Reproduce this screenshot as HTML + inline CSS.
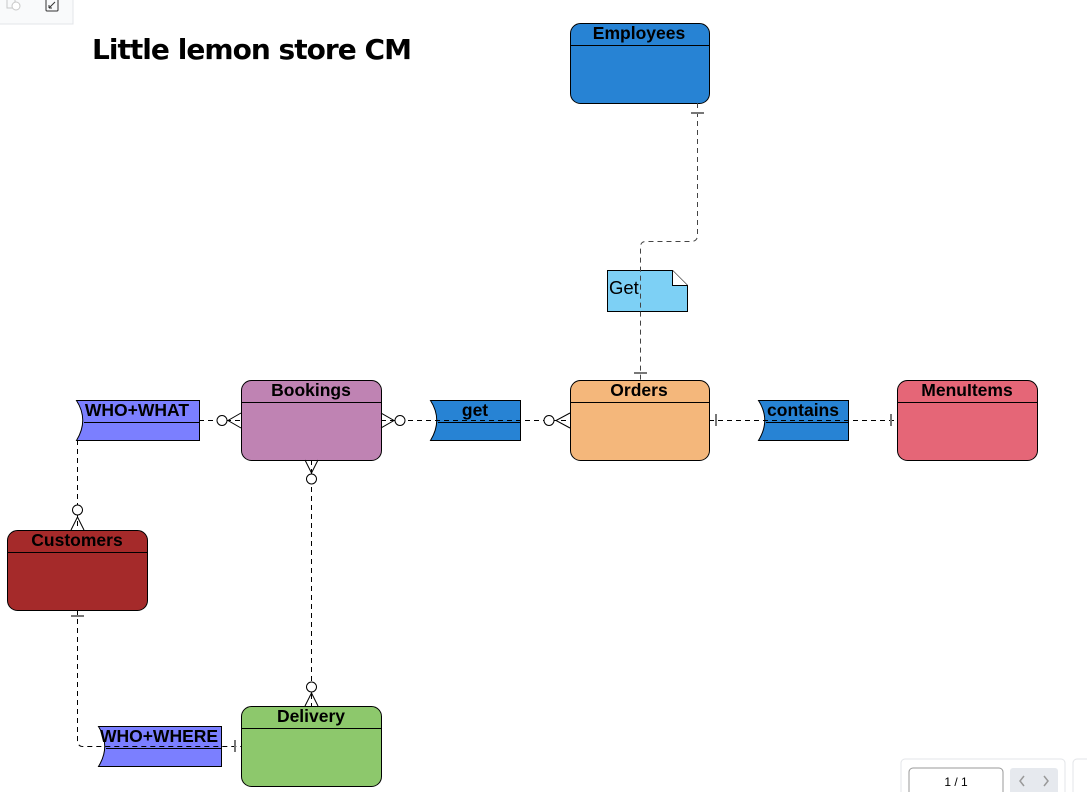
<!DOCTYPE html>
<html><head><meta charset="utf-8"><style>
html,body{margin:0;padding:0;background:#fff;width:1087px;height:792px;overflow:hidden}
svg{display:block}
text{font-family:"Liberation Sans",sans-serif;font-weight:bold}
</style></head><body>
<svg width="1087" height="792" viewBox="0 0 1087 792" xmlns="http://www.w3.org/2000/svg">
<!-- toolbar -->
<rect x="-1" y="-1" width="74" height="25" fill="#f9fafb" stroke="#e3e5e8"/>
<rect x="7" y="-2" width="8" height="10" fill="none" stroke="#c8c8c8"/>
<circle cx="16" cy="6" r="4" fill="#fff" stroke="#c8c8c8"/>
<rect x="46" y="-1" width="12" height="12" rx="1" fill="none" stroke="#333"/>
<path d="M49 8 L55 2 M49 8 h3 M49 8 v-3" stroke="#333" fill="none"/>

<text x="92" y="59" font-size="28" textLength="320" style="font-family:'DejaVu Sans','Liberation Sans',sans-serif">Little lemon store CM</text>

<!-- entities -->
<g stroke="#000" stroke-width="1">
<rect x="570.5" y="23.5" width="139" height="80" rx="10" fill="#2783d4"/>
<line x1="570" y1="45.5" x2="709" y2="45.5"/>
<rect x="570.5" y="380.5" width="139" height="80" rx="10" fill="#f4b77b"/>
<line x1="570" y1="402.5" x2="709" y2="402.5"/>
<rect x="241.5" y="380.5" width="140" height="80" rx="10" fill="#bf83b3"/>
<line x1="241" y1="402.5" x2="381" y2="402.5"/>
<rect x="897.5" y="380.5" width="140" height="80" rx="10" fill="#e56677"/>
<line x1="897" y1="402.5" x2="1037" y2="402.5"/>
<rect x="7.5" y="530.5" width="140" height="80" rx="10" fill="#a52a2a"/>
<line x1="7" y1="552.5" x2="147" y2="552.5"/>
<rect x="241.5" y="706.5" width="140" height="80" rx="10" fill="#8dc86c"/>
<line x1="241" y1="728.5" x2="381" y2="728.5"/>
</g>
<g font-size="17.5" text-anchor="middle">
<text x="639" y="39">Employees</text>
<text x="639" y="396">Orders</text>
<text x="311" y="396">Bookings</text>
<text x="967" y="396">MenuItems</text>
<text x="77" y="546">Customers</text>
<text x="311" y="722">Delivery</text>
</g>

<!-- relationships -->
<g stroke="#000" stroke-width="1">
<path d="M76.5 400.5 H199.5 V440.5 H76.5 Q89 420 76.5 400.5Z" fill="#7b7fff"/>
<line x1="84" y1="422.5" x2="199" y2="422.5"/>
<path d="M430.5 400.5 H520.5 V440.5 H430.5 Q443 420 430.5 400.5Z" fill="#2783d4"/>
<line x1="438" y1="422.5" x2="520" y2="422.5"/>
<path d="M758.5 400.5 H848.5 V440.5 H758.5 Q771 420 758.5 400.5Z" fill="#2783d4"/>
<line x1="766" y1="422.5" x2="848" y2="422.5"/>
<path d="M98.5 726.5 H221.5 V766.5 H98.5 Q111 746 98.5 726.5Z" fill="#7b7fff"/>
<line x1="106" y1="748.5" x2="221" y2="748.5"/>
</g>
<g font-size="17.5" text-anchor="middle">
<text x="137" y="416">WHO+WHAT</text>
<text x="475" y="416">get</text>
<text x="803" y="416">contains</text>
<text x="159" y="742">WHO+WHERE</text>
</g>

<!-- note -->
<path d="M607.5 270.5 H672.5 L687.5 285.5 V311.5 H607.5Z" fill="#7dd0f5" stroke="#000"/>
<path d="M672.5 270.5 V285.5 H687.5" fill="#fff" stroke="#000"/>
<text x="609" y="294" font-size="18.5" style="font-weight:normal">Get</text>

<!-- connectors -->
<g fill="none" stroke="#000" stroke-width="1" stroke-dasharray="5,4">
<path d="M697.5 103 V235 Q697.5 241.5 691 241.5 H646 Q640.5 241.5 640.5 247 V380" stroke="#444"/>
<path d="M199 420.5 H241"/>
<path d="M77.5 440 V530"/>
<path d="M381 420.5 H570"/>
<path d="M709 420.5 H897"/>
<path d="M311.5 460 V706"/>
<path d="M77.5 610 V740 Q77.5 746.5 83 746.5 H241"/>
</g>
<g fill="#fff" stroke="#000" stroke-width="1">
<circle cx="222" cy="420.5" r="5"/>
<circle cx="77.5" cy="510" r="5"/>
<circle cx="400" cy="420.5" r="5"/>
<circle cx="549" cy="420.5" r="5"/>
<circle cx="311.5" cy="479" r="5"/>
<circle cx="311.5" cy="687" r="5"/>
</g>
<g fill="none" stroke="#000" stroke-width="1">
<path d="M241 413 L228 420.5 L241 428"/>
<path d="M71 530 L77.5 517 L84 530"/>
<path d="M381 413 L394 420.5 L381 428"/>
<path d="M570 413 L556 420.5 L570 428"/>
<path d="M305 460 L311.5 473 L318 460"/>
<path d="M305 706 L311.5 693 L318 706"/>
</g>
<g stroke="#777" stroke-width="2">
<line x1="691" y1="113" x2="704" y2="113"/>
<line x1="634" y1="373" x2="647" y2="373"/>
<line x1="716" y1="414" x2="716" y2="426"/>
<line x1="891" y1="414" x2="891" y2="426"/>
<line x1="71" y1="616" x2="84" y2="616"/>
<line x1="235" y1="740" x2="235" y2="752"/>
</g>

<!-- pager -->
<rect x="901" y="759" width="164" height="40" rx="4" fill="#fff" stroke="#e3e5e8"/>
<rect x="909" y="768" width="94" height="30" rx="4" fill="#fff" stroke="#999"/>
<text x="956" y="786" font-size="12" text-anchor="middle" style="font-weight:normal">1 / 1</text>
<rect x="1010" y="768" width="48" height="30" rx="3" fill="#e6e9ee"/>
<path d="M1024 776 L1020 781 L1024 786 M1044 776 L1048 781 L1044 786" stroke="#999" stroke-width="1.5" fill="none"/>
<rect x="1073" y="759" width="30" height="40" rx="4" fill="#fff" stroke="#e3e5e8"/>
</svg>
</body></html>
